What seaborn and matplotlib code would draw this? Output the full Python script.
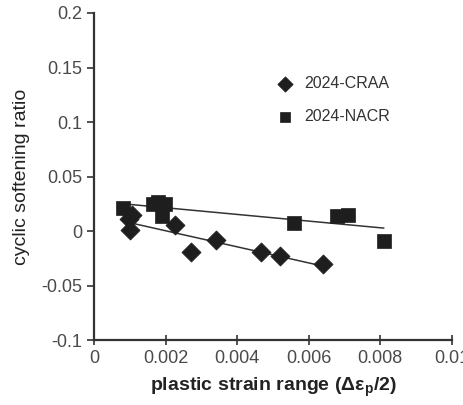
import matplotlib
matplotlib.use("Agg")
import matplotlib.pyplot as plt
import seaborn as sns
import pandas as pd
import numpy as np

craa_x = [0.00105, 0.00098, 0.00101, 0.00227, 0.00271, 0.00341, 0.00468, 0.00520, 0.00639]
craa_y = [0.0145, 0.0115, 0.0006, 0.0052, -0.0193, -0.0085, -0.0193, -0.0232, -0.0299]
nacr_x = [0.00082, 0.00164, 0.00180, 0.00198, 0.00189, 0.00560, 0.00680, 0.00710, 0.00810]
nacr_y = [0.0215, 0.0250, 0.0266, 0.0245, 0.0140, 0.0074, 0.0138, 0.0150, -0.0092]
labels = ["2024-CRAA", "2024-NACR"]
xticks = [0, 0.002, 0.004, 0.006, 0.008, 0.01]
xticklabels = ["0", "0.002", "0.004", "0.006", "0.008", "0.01"]
yticks = [-0.1, -0.05, 0, 0.05, 0.1, 0.15, 0.2]
yticklabels = ["-0.1", "-0.05", "0", "0.05", "0.1", "0.15", "0.2"]

sns.set_style("white")
plt.rcParams['font.family'] = ['Liberation Sans', 'DejaVu Sans']

fig = plt.figure(figsize=(4.63, 4.05), dpi=100)
ax = fig.add_axes([0.203, 0.160, 0.773, 0.808])

df_c = pd.DataFrame({"x": craa_x, "y": craa_y})
df_n = pd.DataFrame({"x": nacr_x, "y": nacr_y})

mcol = "#1e1e1e"
sns.regplot(data=df_c, x="x", y="y", ax=ax, scatter=False, ci=None,
            line_kws=dict(color="#333333", lw=1.1))
sns.regplot(data=df_n, x="x", y="y", ax=ax, scatter=False, ci=None,
            line_kws=dict(color="#333333", lw=1.1))
sns.scatterplot(data=df_c, x="x", y="y", ax=ax, marker="D", s=95, color=mcol,
                edgecolor=mcol, linewidth=0.5, label=labels[0], zorder=3)
sns.scatterplot(data=df_n, x="x", y="y", ax=ax, marker="s", s=95, color=mcol,
                edgecolor=mcol, linewidth=0.5, label=labels[1], zorder=3)

ax.set_xlim(0, 0.01)
ax.set_ylim(-0.1, 0.2)
ax.set_xticks(xticks)
ax.set_xticklabels(xticklabels)
ax.set_yticks(yticks)
ax.set_yticklabels(yticklabels)
ax.tick_params(axis="both", labelsize=13, labelcolor="#4a4a4a", color="#333333",
               length=6, width=1.2, bottom=True, left=True)
ax.tick_params(axis="y", direction="out", length=5)
ax.tick_params(axis="x", direction="inout", length=7)

for s in ["top", "right"]:
    ax.spines[s].set_visible(False)
for s in ["left", "bottom"]:
    ax.spines[s].set_color("#333333")
    ax.spines[s].set_linewidth(1.6)

ax.set_xlabel("plastic strain range (\u0394\u03b5$_{\\mathregular{p}}$/2)",
              fontsize=14, fontweight="bold", color="#222222", labelpad=6)
ax.set_ylabel("cyclic softening ratio", fontsize=14, color="#222222", labelpad=8)

leg = ax.legend(loc="upper left", bbox_to_anchor=(0.45, 0.85), frameon=False,
                fontsize=11.5, handletextpad=0.2, labelspacing=1.1,
                markerscale=0.8)
for t in leg.get_texts():
    t.set_color("#333333")

fig.savefig("out.png", dpi=100)
